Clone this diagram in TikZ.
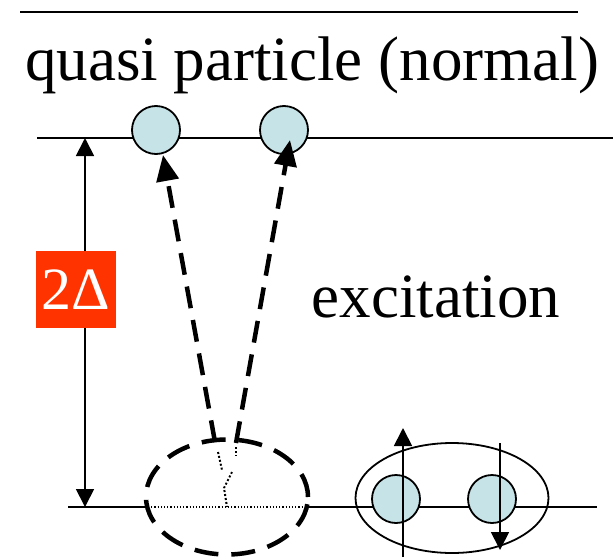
\documentclass[tikz,border=0pt]{standalone}
\usepackage{fontspec}
\setmainfont{Liberation Serif}
\usetikzlibrary{arrows.meta,positioning,shapes.geometric}
\definecolor{qpblue}{RGB}{198,228,232}
\definecolor{gapred}{RGB}{255,51,0}

\begin{document}
\begin{tikzpicture}[x=1pt,y=-1pt,>={Triangle[length=18pt,width=18pt]},
  level/.style={line width=1.8pt},
  qp/.style={circle,draw,line width=1.8pt,fill=qpblue,minimum size=48pt,inner sep=0pt},
  pairring/.style={ellipse,draw,line width=1.8pt,inner sep=0pt},
  cooper/.style={ellipse,draw,line width=4.5pt,dash pattern=on 24pt off 13pt,inner sep=0pt},
  excite/.style={line width=4.5pt,dash pattern=on 22pt off 12pt,-{Triangle[length=26pt,width=22pt]}},
  trace/.style={line width=2pt,dotted},
  big/.style={font=\fontsize{63}{70}\selectfont}]
  \useasboundingbox (0,0) rectangle (613,557);
  % levels
  \coordinate (topL) at (20,12);   \coordinate (topR) at (578,12);
  \coordinate (upL) at (37,138);   \coordinate (upR) at (613,138);
  \coordinate (loL) at (68,507);   \coordinate (loR) at (597,507);
  \coordinate (dotL) at (148,507); \coordinate (dotR) at (306,507);
  \draw[level] (topL) -- (topR);
  \draw[level] (upL) -- (upR);
  \draw[level] (loL) -- (dotL);
  \draw[line width=1.2pt,dotted] (dotL) -- (dotR);
  \draw[level] (dotR) -- (loR);
  \node[big,anchor=base] (title) at (312,80) {quasi particle (normal)};
  % gap
  \coordinate (gapT) at (85,138); \coordinate (gapB) at (85,507);
  \draw[level,<->] (gapT) -- (gapB);
  \node[fill=gapred,text=white,minimum width=80pt,minimum height=77pt,inner sep=0pt,
    font=\fontsize{60}{62}\selectfont] (gap) at (76,289.5) {2Δ};
  % quasi particles
  \node[qp] (qa) at (156,130) {};
  \node[qp] (qb) at (284,130) {};
  % broken pair
  \node[cooper,minimum width=162pt,minimum height=115pt] (broken) at (227,497) {};
  \coordinate (tailA) at (215,442); \coordinate (tipA) at (163,155);
  \coordinate (tailB) at (236,443); \coordinate (tipB) at (290,140);
  \draw[excite] (tailA) -- (tipA);
  \draw[excite] (tailB) -- (tipB);
  \draw[trace] (218,452) -- (222,470);
  \draw[trace] (232,472) -- (224,488) -- (227,507);
  \draw[trace] (236,447) -- (236,456);
  \node[big,anchor=base] (exc) at (436,317) {excitation};
  % bound pair
  \node[pairring,minimum width=193pt,minimum height=110pt] (pair) at (452,498) {};
  \node[qp] (pa) at (396,499) {};
  \node[qp] (pb) at (492,499) {};
  \coordinate (upS) at (403,557); \coordinate (upE) at (403,428);
  \coordinate (dnS) at (500,443); \coordinate (dnE) at (500,550);
  \draw[level,->] (upS) -- (upE);
  \draw[level,->] (dnS) -- (dnE);
\end{tikzpicture}
\end{document}
